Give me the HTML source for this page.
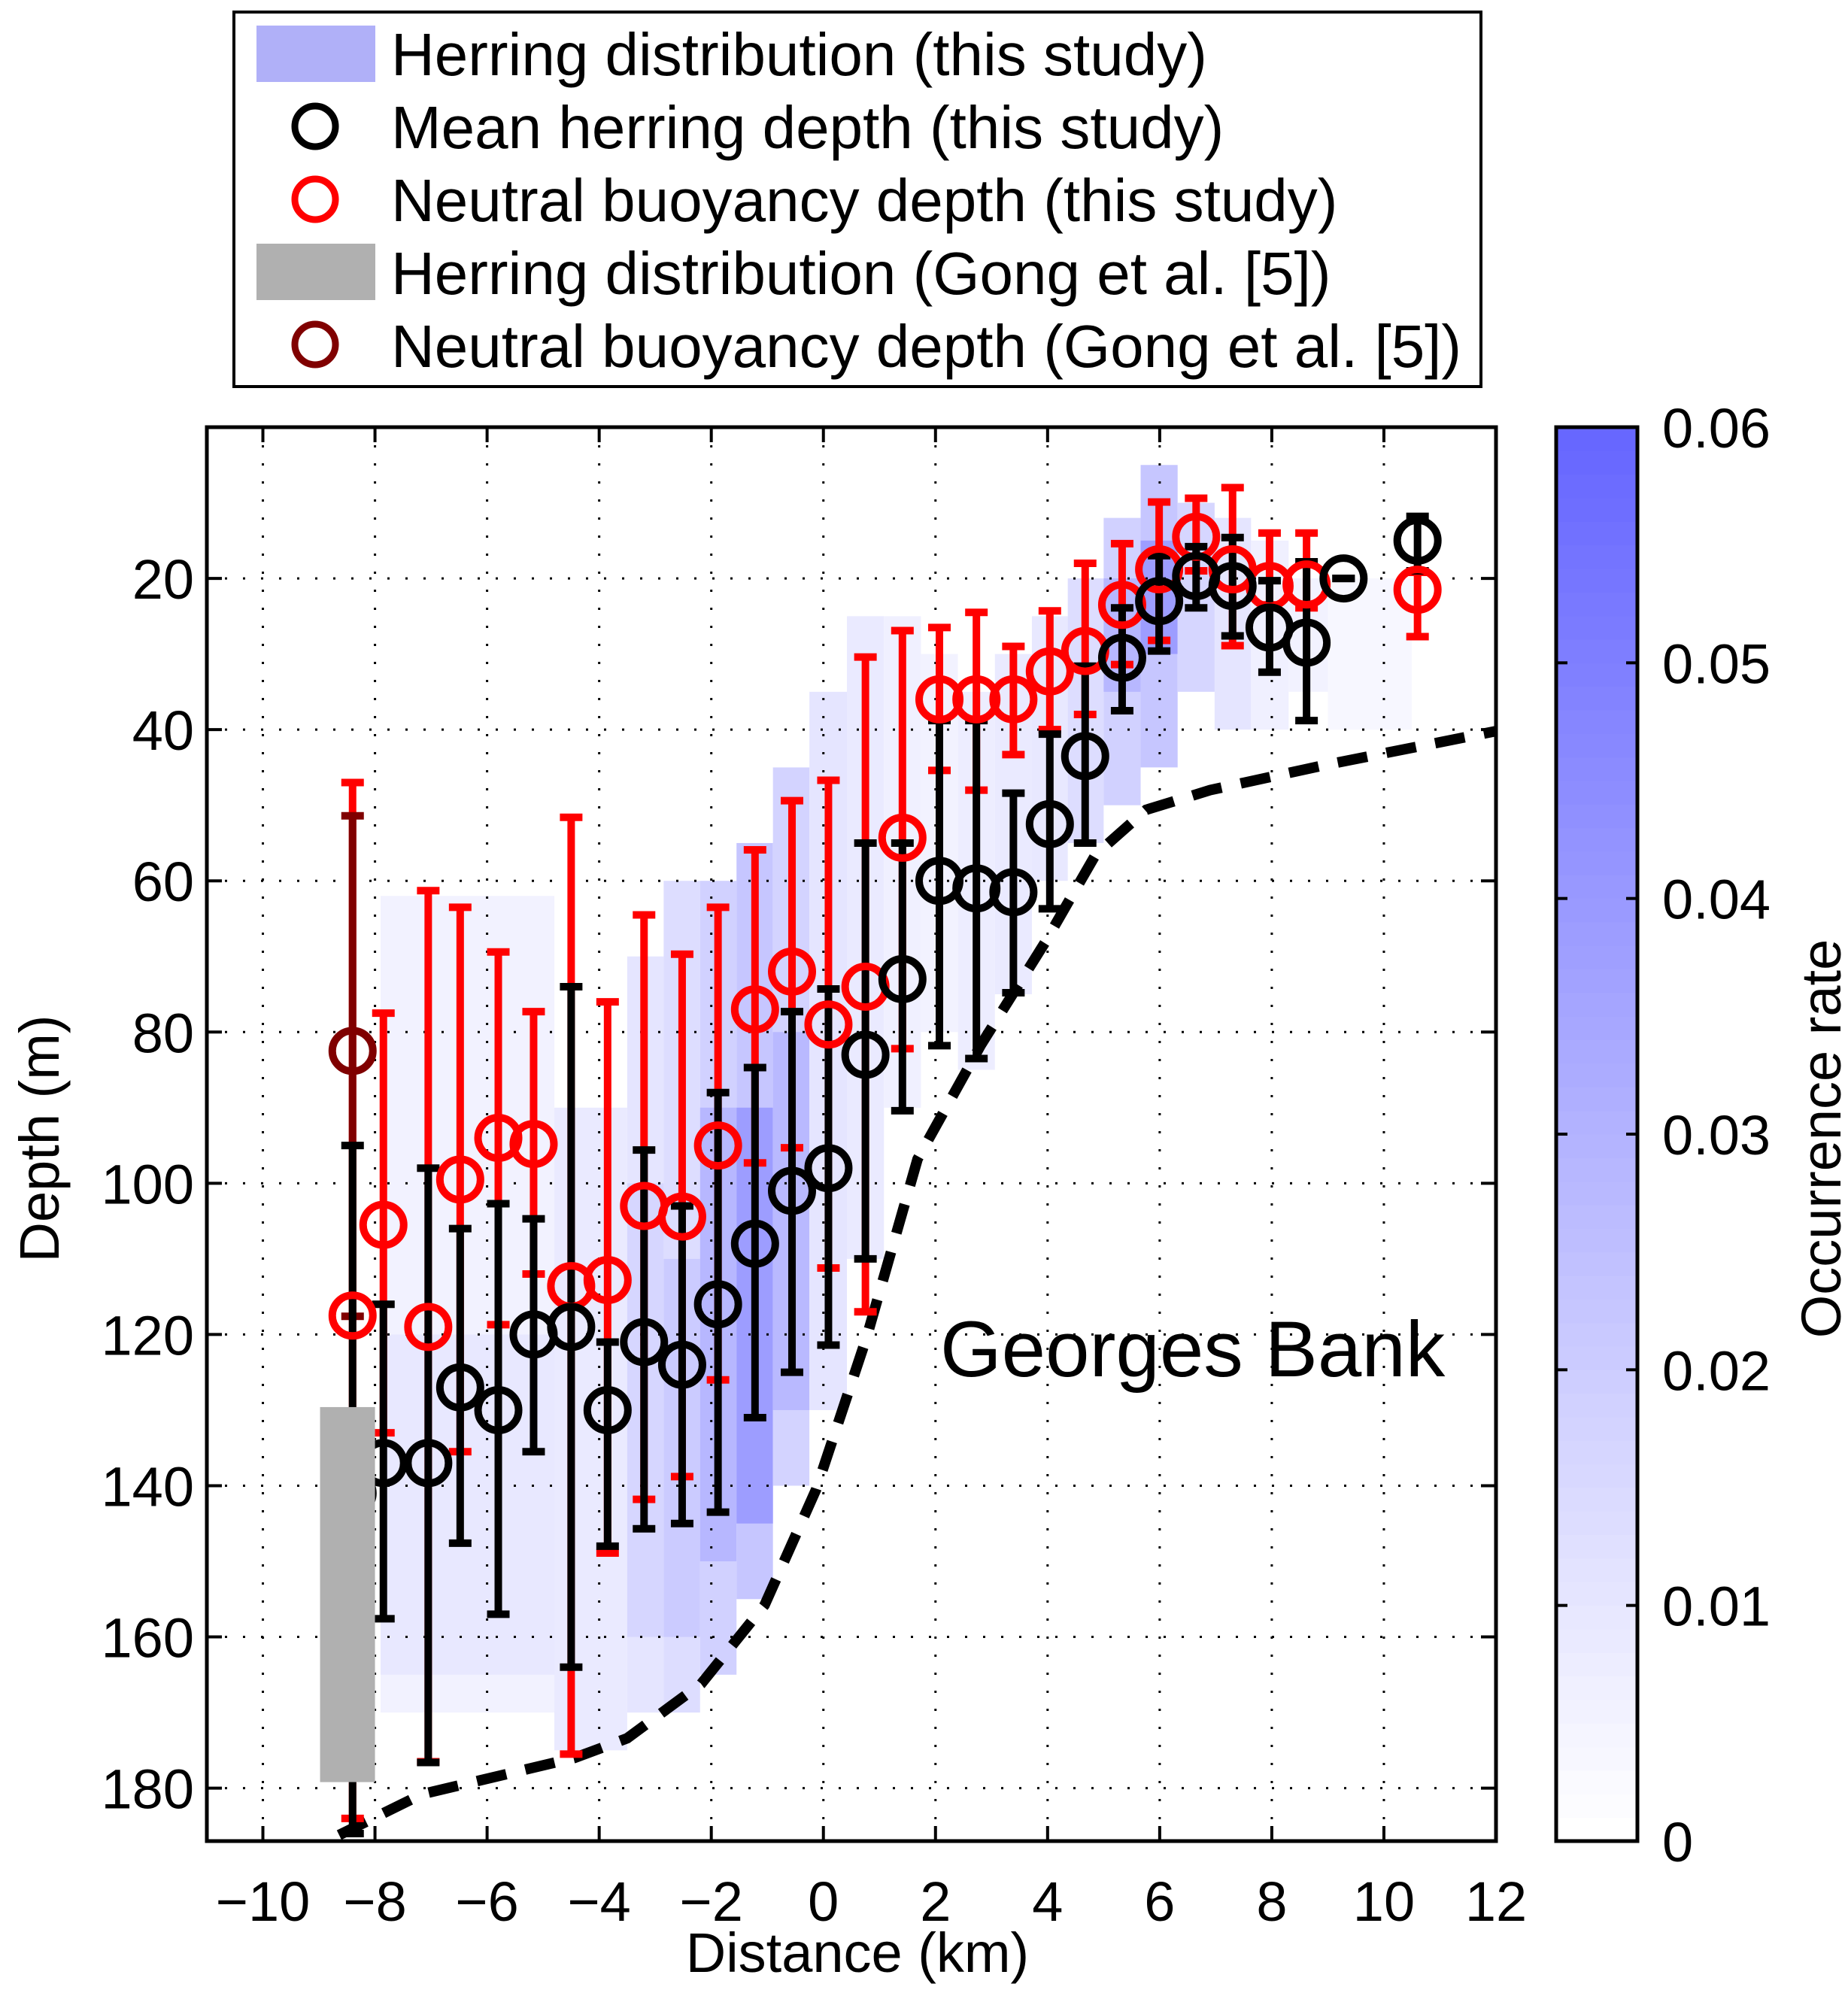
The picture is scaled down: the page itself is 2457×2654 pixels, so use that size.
<!DOCTYPE html>
<html><head><meta charset="utf-8">
<style>
html,body{margin:0;padding:0;background:#fff;}
svg{display:block;font-family:"Liberation Sans",Arial,sans-serif;}
</style></head>
<body>
<svg id="chart" width="2457" height="2654" viewBox="0 0 2457 2654" xmlns="http://www.w3.org/2000/svg">
<rect width="2457" height="2654" fill="#fff"/>
<g id="heat"></g>
<g id="grid"></g>
<g id="curve"></g>
<g id="series"></g>
<g id="axes"></g>
<g id="cbar"></g>
<text x="1250" y="1830" font-size="105">Georges Bank</text>
<text x="1140" y="2622" font-size="74" text-anchor="middle">Distance (km)</text>
<text transform="translate(78,1514) rotate(-90)" font-size="74" text-anchor="middle">Depth (m)</text>
<text transform="translate(2447,1514) rotate(-90)" font-size="74" text-anchor="middle">Occurrence rate</text>
<g>
  <rect x="311" y="16" width="1658" height="498" fill="#fff" stroke="#000" stroke-width="4"/>
  <rect x="341" y="34" width="158" height="75" fill="#b0b0f8"/>
  <circle cx="419" cy="168" r="27" fill="none" stroke="#000" stroke-width="9"/>
  <circle cx="419" cy="265" r="27" fill="none" stroke="#f00" stroke-width="9"/>
  <rect x="341" y="324" width="158" height="75" fill="#b0b0b0"/>
  <circle cx="419" cy="458" r="27" fill="none" stroke="#800000" stroke-width="9"/>
  <g font-size="80">
    <text x="520" y="100">Herring distribution (this study)</text>
    <text x="520" y="197">Mean herring depth (this study)</text>
    <text x="520" y="294">Neutral buoyancy depth (this study)</text>
    <text x="520" y="391">Herring distribution (Gong et al. [5])</text>
    <text x="520" y="488">Neutral buoyancy depth (Gong et al. [5])</text>
  </g>
</g>
</svg>
<script>
// ---- data ----
const xTicks = [-10,-8,-6,-4,-2,0,2,4,6,8,10,12];
const yTicks = [20,40,60,80,100,120,140,160,180];
const cTicks = [0,0.01,0.02,0.03,0.04,0.05,0.06];
const cTickLabels = ['0','0.01','0.02','0.03','0.04','0.05','0.06'];
const binX = [-8.4,-7.85,-7.05,-6.48,-5.8,-5.17,-4.5,-3.85,-3.2,-2.52,-1.88,-1.22,-0.56,0.09,0.75,1.41,2.07,2.73,3.39,4.04,4.67,5.33,5.99,6.65,7.3,7.96,8.62,9.28,10.6];
const meanDepth = [141,137,137,127,130,120,119,130,121,124,116,108,101,98,83,73,60,61,61.5,52.5,43.5,30.5,23,19.7,21,26.5,28.5,20,15];
const meanLo = [95,116,98,106,102.7,104.7,74,121,95.6,103,88,84.7,77.3,74.3,55,55,38.8,38.8,48.4,40.6,31.6,23.9,17,15.8,14.6,20.3,17.8,20,11.8];
const meanHi = [186,157.6,176.6,147.6,157,135.5,164,148,145.7,145,143.5,131,125,121.4,110,90.4,81.8,83.5,74.8,63.7,55,37.5,29.6,23.9,27.6,32.4,38.8,20,19];
const nbX = [-8.4,-7.85,-7.05,-6.48,-5.8,-5.17,-4.5,-3.85,-3.2,-2.52,-1.88,-1.22,-0.56,0.09,0.75,1.41,2.07,2.73,3.39,4.04,4.67,5.33,5.99,6.65,7.3,7.96,8.62,10.6];
const nbDepth = [117.5,105.5,119,99.5,94,94.8,113.6,112.8,103,104.4,95,77,72,79,74,54.3,36,36,36,32.3,29.6,23.5,18.8,14.5,18.8,21,20.8,21.5];
const nbLo = [47,77.5,61.3,63.5,69.4,77.3,51.6,76,64.5,69.7,63.5,55.9,49.4,46.7,30.4,26.9,26.5,24.5,29,24.3,18,15.4,9.9,9.4,8,14,14,19.2];
const nbHi = [184,133,176.5,135.5,118.7,112,175.5,148.9,141.8,138.8,126,97.3,95.3,111.2,117,82.2,45.4,48,43.3,40,38,31.4,28.2,19,28.9,23.5,23.9,27.7];
const gongX = [-8.4];
const gongDepth = [82.5];
const gongLo = [51.4];
const gongHi = [117.6];
const gongDistX = [-8.98,-8.0];
const gongDistDepth = [129.6,179.2];
const bottomX = [-8.64,-7.16,-4.44,-3.5,-2.18,-1.05,-0.13,0.77,1.68,2.81,3.95,4.86,5.76,6.9,8.94,12];
const bottomDepth = [186.2,180.8,176,173.4,166.2,155.8,140.5,120.4,96.8,81.7,68.2,56.5,50.6,48,44.7,40.2];
// heatmap segments: x0, x1, top depth, bottom depth, occurrence value
const heatX0 = [-7.9,-7.9,-4.8,-3.5,-3.5,-2.85,-2.85,-2.2,-2.2,-1.55,-1.55,-0.9,-0.9,-0.25,0.42,1.08,1.74,2.4,3.06,3.72,4.36,5.0,5.0,5.66,5.66,6.32,6.98,7.63,8.3,9.0];
const heatX1 = [-4.8,-4.8,-3.5,-2.85,-2.85,-2.2,-2.2,-1.55,-1.55,-0.9,-0.9,-0.25,-0.25,0.42,1.08,1.74,2.4,3.06,3.72,4.36,5.0,5.66,5.66,6.32,6.32,6.98,7.63,8.3,9.0,10.5];
const heatTop = [62,120,90,70,100,60,110,60,90,55,90,45,80,35,25,25,30,35,30,25,20,12,20,5,15,10,12,15,20,20];
const heatBot = [170,165,175,170,160,170,160,165,150,155,145,140,130,130,110,90,80,85,75,60,55,50,35,45,30,35,40,40,35,40];
const heatVal = [0.005,0.009,0.008,0.01,0.016,0.013,0.02,0.018,0.028,0.022,0.038,0.017,0.027,0.01,0.008,0.006,0.005,0.007,0.008,0.009,0.013,0.018,0.028,0.022,0.038,0.016,0.01,0.006,0.005,0.003];

// ---- axes ----
const L=275,R=1989,T=568,B=2448;
const xMin=-11,xMax=12,yMin=0,yMax=187;
function xs(v){return L+(v-xMin)/(xMax-xMin)*(R-L);}
function ys(v){return T+(v-yMin)/(yMax-yMin)*(B-T);}
const CB={l:2069,r:2177,t:568,b:2448,max:0.06};
function cs(v){return CB.b-(v/CB.max)*(CB.b-CB.t);}
function color(v){const f=Math.min(1,v/CB.max);const c=Math.round(255-f*155);return `rgb(${c},${c},255)`;}
const NS='http://www.w3.org/2000/svg';
function mk(tag,attrs,parent){const e=document.createElementNS(NS,tag);for(const k in attrs)e.setAttribute(k,attrs[k]);parent.appendChild(e);return e;}

// heatmap
const heat=document.getElementById('heat');
for(let i=0;i<heatVal.length;i++){
  const r=mk('rect',{x:xs(heatX0[i]),y:ys(heatTop[i]),width:xs(heatX1[i])-xs(heatX0[i]),height:ys(heatBot[i])-ys(heatTop[i]),fill:color(heatVal[i])},heat);
  
  
}

// grid
const grid=document.getElementById('grid');
xTicks.forEach(v=>{if(v>xMin&&v<xMax){const l=mk('line',{x1:xs(v),x2:xs(v),y1:T,y2:B,stroke:'#000','stroke-width':3,'stroke-dasharray':'3 21'},grid);
  
  }});
yTicks.forEach(v=>{const l=mk('line',{x1:L,x2:R,y1:ys(v),y2:ys(v),stroke:'#000','stroke-width':3,'stroke-dasharray':'3 21'},grid);
  
  });

// bottom curve
const curve=document.getElementById('curve');
let d='';
for(let i=0;i<bottomX.length;i++){d+=(i?'L':'M')+xs(bottomX[i])+','+ys(bottomDepth[i]);}
const cp=mk('path',{d:d,fill:'none',stroke:'#000','stroke-width':14,'stroke-dasharray':'40 26'},curve);



// series
const ser=document.getElementById('series');
function errbar(x,lo,hi,col,name){
  const g=mk('g',{},ser);
  
  
  mk('line',{x1:xs(x),x2:xs(x),y1:ys(lo),y2:ys(hi),stroke:col,'stroke-width':10},g);
  mk('line',{x1:xs(x)-15,x2:xs(x)+15,y1:ys(lo),y2:ys(lo),stroke:col,'stroke-width':10},g);
  mk('line',{x1:xs(x)-15,x2:xs(x)+15,y1:ys(hi),y2:ys(hi),stroke:col,'stroke-width':10},g);
}
function marker(x,y,col,name){
  const c=mk('circle',{cx:xs(x),cy:ys(y),r:27,fill:'none',stroke:col,'stroke-width':10},ser);
  
  
}
for(let i=0;i<nbX.length;i++)errbar(nbX[i],nbLo[i],nbHi[i],'#f00','neutral-buoyancy-errorbar');
for(let i=0;i<gongX.length;i++)errbar(gongX[i],gongLo[i],gongHi[i],'#800000','gong-neutral-buoyancy-errorbar');
for(let i=0;i<binX.length;i++)errbar(binX[i],meanLo[i],meanHi[i],'#000','mean-depth-errorbar');
for(let i=0;i<nbX.length;i++)marker(nbX[i],nbDepth[i],'#f00','neutral-buoyancy-point');
for(let i=0;i<binX.length;i++)marker(binX[i],meanDepth[i],'#000','mean-depth-point');
for(let i=0;i<gongX.length;i++)marker(gongX[i],gongDepth[i],'#800000','gong-neutral-buoyancy-point');
const gr=mk('rect',{x:xs(gongDistX[0]),y:ys(gongDistDepth[0]),width:xs(gongDistX[1])-xs(gongDistX[0]),height:ys(gongDistDepth[1])-ys(gongDistDepth[0]),fill:'#b0b0b0'},ser);



// axes
const ax=document.getElementById('axes');
const fr=mk('rect',{x:L,y:T,width:R-L,height:B-T,fill:'none',stroke:'#000','stroke-width':5},ax);


xTicks.forEach(v=>{
  mk('line',{x1:xs(v),x2:xs(v),y1:B,y2:B-20,stroke:'#000','stroke-width':4},ax);
  mk('line',{x1:xs(v),x2:xs(v),y1:T,y2:T+20,stroke:'#000','stroke-width':4},ax);
  const t=mk('text',{x:xs(v),y:2554,'font-size':74,'text-anchor':'middle'},ax);
  t.textContent=v<0?'\u2212'+Math.abs(v):String(v);
  
  
});
yTicks.forEach(v=>{
  mk('line',{x1:L,x2:L+20,y1:ys(v),y2:ys(v),stroke:'#000','stroke-width':4},ax);
  mk('line',{x1:R,x2:R-20,y1:ys(v),y2:ys(v),stroke:'#000','stroke-width':4},ax);
  const t=mk('text',{x:258,y:ys(v)+27,'font-size':74,'text-anchor':'end'},ax);
  t.textContent=String(v);
  
  
});

// colorbar
const cb=document.getElementById('cbar');
const steps=60;
for(let i=0;i<steps;i++){
  const v0=i/steps*CB.max,v1=(i+1)/steps*CB.max;
  const r=mk('rect',{x:CB.l,y:cs(v1),width:CB.r-CB.l,height:cs(v0)-cs(v1)+0.5,fill:color(v0)},cb);
  
  
}
const cf=mk('rect',{x:CB.l,y:CB.t,width:CB.r-CB.l,height:CB.b-CB.t,fill:'none',stroke:'#000','stroke-width':5},cb);


cTicks.forEach((v,i)=>{
  mk('line',{x1:CB.l,x2:CB.l+15,y1:cs(v),y2:cs(v),stroke:'#000','stroke-width':4},cb);
  mk('line',{x1:CB.r,x2:CB.r-15,y1:cs(v),y2:cs(v),stroke:'#000','stroke-width':4},cb);
  const t=mk('text',{x:2210,y:cs(v)+27,'font-size':74},cb);
  t.textContent=cTickLabels[i];
  
  
});
</script>
</body></html>
